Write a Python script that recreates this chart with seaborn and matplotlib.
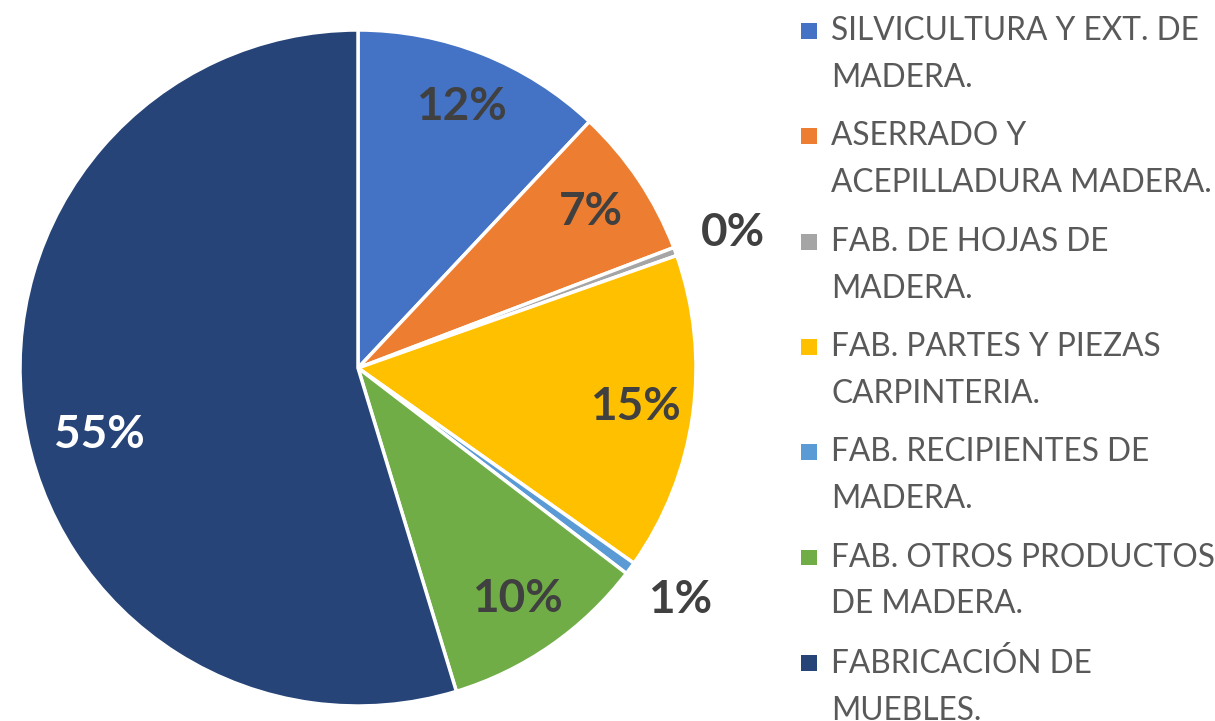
import numpy as np
import seaborn as sns
import matplotlib.pyplot as plt
from matplotlib.patches import Patch, Rectangle
from matplotlib.legend_handler import HandlerPatch

sns.set_theme(style="white")
plt.rcParams['font.family'] = ['Lato', 'DejaVu Sans']

categorias = [
    'SILVICULTURA Y EXT. DE\nMADERA.',
    'ASERRADO Y\nACEPILLADURA MADERA.',
    'FAB. DE HOJAS DE\nMADERA.',
    'FAB. PARTES Y PIEZAS\nCARPINTERIA.',
    'FAB. RECIPIENTES DE\nMADERA.',
    'FAB. OTROS PRODUCTOS\nDE MADERA.',
    'FABRICACIÓN DE\nMUEBLES.',
]
valores = [12.0, 7.2, 0.4, 15.2, 0.6, 9.9, 54.7]
colores = ['#4472C4', '#ED7D31', '#A5A5A5', '#FFC000', '#5B9BD5', '#70AD47', '#264478']

fig = plt.figure(figsize=(12.15, 7.21), dpi=100)
ax = fig.add_axes([20 / 1215, 15 / 721, 676 / 1215, 676 / 721])

wedges, _, textos = ax.pie(
    valores, colors=colores, startangle=90, counterclock=False,
    wedgeprops=dict(edgecolor='white', linewidth=2.5),
    autopct='%1.0f%%', pctdistance=0.83,
    textprops=dict(fontsize=33, fontweight='bold', color='#404040'),
)
ax.set_xlim(-1, 1)
ax.set_ylim(-1, 1)
ax.set_aspect('equal')
ax.axis('off')

# etiquetas pequeñas fuera del pastel, la grande en blanco
for w, t, v in zip(wedges, textos, valores):
    ang = np.deg2rad((w.theta1 + w.theta2) / 2)
    if v < 1:
        t.set_position((1.16 * np.cos(ang) + 0.02, 1.16 * np.sin(ang)))
    if v > 50:
        t.set_color('white')
        ang = np.deg2rad(-165.5)
        t.set_position((0.79 * np.cos(ang), 0.79 * np.sin(ang)))


# cuadrito alineado con la primera linea del texto
def cuadro(legend, orig_handle, xdescent, ydescent, width, height, fontsize):
    s = 0.5 * fontsize
    return Rectangle((-xdescent, -ydescent + height - s + 0.1 * fontsize), s, s)


handles = [Patch(facecolor=c, edgecolor='none') for c in colores]
leg = fig.legend(
    handles, categorias, loc='upper left', bbox_to_anchor=(782 / 1215, 1.004),
    frameon=False, fontsize=22.8, handlelength=0.55, handleheight=2.6,
    handletextpad=0.4, labelspacing=0.9, borderaxespad=0.2,
    handler_map={Patch: HandlerPatch(patch_func=cuadro)},
)
for t in leg.get_texts():
    t.set_color('#595959')
    t.set_linespacing(1.7)

fig.savefig('out.png', dpi=100)
